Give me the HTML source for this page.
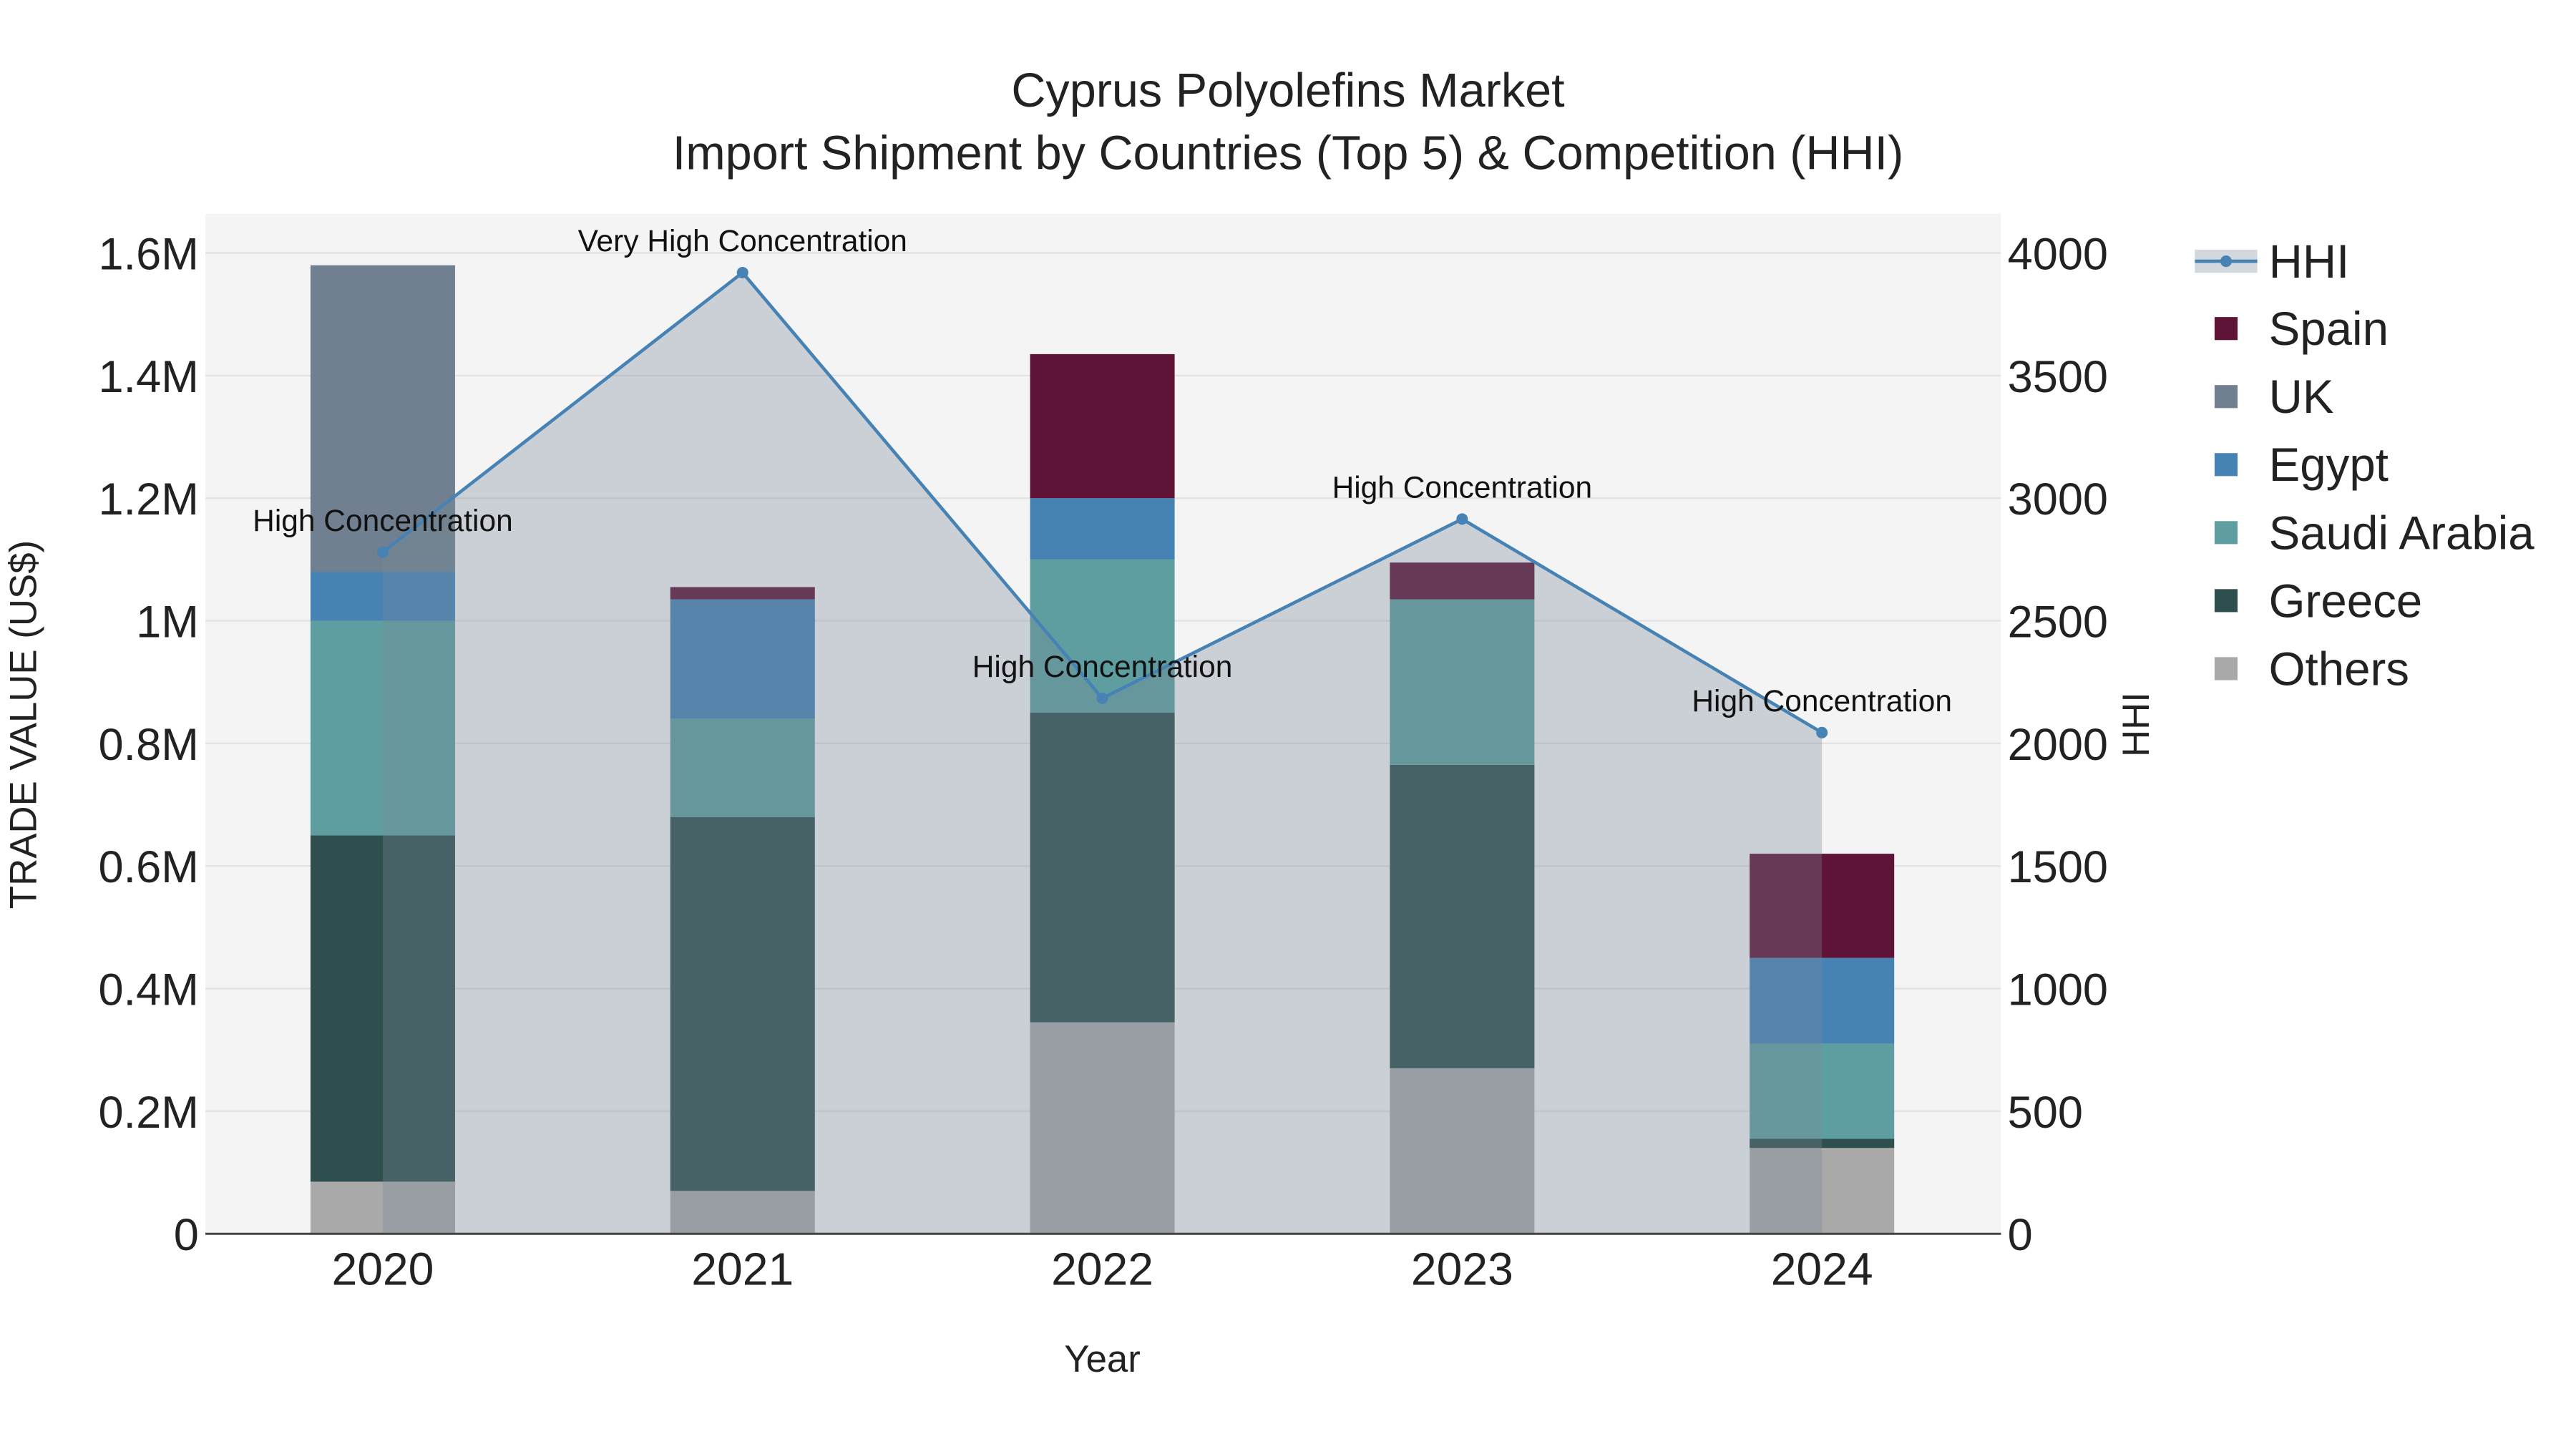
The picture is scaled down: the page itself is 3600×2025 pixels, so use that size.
<!DOCTYPE html>
<html><head><meta charset="utf-8"><style>
html,body{margin:0;padding:0;background:#fff}
svg{display:block;font-family:"Liberation Sans",sans-serif}
</style></head><body>
<svg id="chart" width="3600" height="2025" viewBox="0 0 1568 882" xmlns="http://www.w3.org/2000/svg">
<rect x="0" y="0" width="1568" height="882" fill="#fff"/>
<rect x="125" y="130" width="1093" height="621" fill="#f4f4f4"/>
<g id="grid"></g><g id="bars"></g><g id="area"></g><g id="line"></g><g id="axes"></g><g id="legend"></g>
<text x="784" y="65" text-anchor="middle" font-size="29" fill="#222">Cyprus Polyolefins Market</text>
<text x="784" y="103" text-anchor="middle" font-size="29" fill="#222">Import Shipment by Countries (Top 5) &amp; Competition (HHI)</text>
<text x="671" y="835" text-anchor="middle" font-size="23" fill="#222">Year</text>
<text transform="translate(22,441) rotate(-90)" text-anchor="middle" font-size="23" fill="#222">TRADE VALUE (US$)</text>
<text transform="translate(1308,441) rotate(-90)" text-anchor="middle" font-size="23" fill="#222">HHI</text>
</svg>
<script>
const years = ["2020","2021","2022","2023","2024"];
const others = [0.085,0.07,0.345,0.27,0.14];
const greece = [0.565,0.61,0.505,0.495,0.015];
const saudi = [0.35,0.16,0.25,0.27,0.155];
const egypt = [0.08,0.195,0.10,0,0.14];
const uk = [0.5,0,0,0,0];
const spain = [0,0.02,0.235,0.06,0.17];
const hhi = [2780,3920,2184,2915,2044];
const hhiLabels = ["High Concentration","Very High Concentration","High Concentration","High Concentration","High Concentration"];
const yTicks = [0,0.2,0.4,0.6,0.8,1.0,1.2,1.4,1.6];
const yTickLabels = ["0","0.2M","0.4M","0.6M","0.8M","1M","1.2M","1.4M","1.6M"];
const y2Ticks = [0,500,1000,1500,2000,2500,3000,3500,4000];

const NS="http://www.w3.org/2000/svg";
function mk(tag,attrs,parent,text){const e=document.createElementNS(NS,tag);for(const k in attrs)e.setAttribute(k,attrs[k]);if(text!==undefined)e.textContent=text;parent.appendChild(e);return e;}
const x=i=>233+i*219;
const y=v=>751-v/1.6*597;
const y2=v=>751-v/4000*597;
const G=id=>document.getElementById(id);

yTicks.forEach((t,i)=>{
  if(t>0){const l=mk('line',{x1:125,x2:1218,y1:y(t),y2:y(t),stroke:'#e2e2e2','stroke-width':1},G('grid'));
  
  }
  const tl=mk('text',{x:121,y:y(t)+10,'text-anchor':'end','font-size':27.5,fill:'#222'},G('axes'),yTickLabels[i]);
  
  
});
y2Ticks.forEach(t=>{
  const tl=mk('text',{x:1222,y:y2(t)+10,'font-size':27.5,fill:'#222'},G('axes'),String(t));
  
  
});
years.forEach((yr,i)=>{
  const tl=mk('text',{x:x(i),y:782,'text-anchor':'middle','font-size':28,fill:'#222'},G('axes'),yr);
  
  
});
const zl=mk('line',{x1:125,x2:1218,y1:751,y2:751,stroke:'#444','stroke-width':1.3},G('axes'));



const series=[["Others",others,"#a9a9a9"],["Greece",greece,"#2f4f4f"],["Saudi Arabia",saudi,"#5f9ea0"],["Egypt",egypt,"#4682b4"],["UK",uk,"#708090"],["Spain",spain,"#5f1336"]];
years.forEach((yr,i)=>{
  let base=0;
  series.forEach(([name,vals,col])=>{
    const v=vals[i];
    if(v>0){
      const r=mk('rect',{x:x(i)-44,width:88,y:y(base+v),height:y(base)-y(base+v),fill:col},G('bars'));
      
      
    }
    base+=v;
  });
});

let d='M'+x(0)+','+y2(0);
hhi.forEach((v,i)=>{d+=' L'+x(i)+','+y2(v);});
d+=' L'+x(hhi.length-1)+','+y2(0)+' Z';
const ar=mk('path',{d:d,fill:'rgba(119,136,153,0.33)'},G('area'));


const ln=mk('polyline',{points:hhi.map((v,i)=>x(i)+','+y2(v)).join(' '),fill:'none',stroke:'#4682b4','stroke-width':2},G('line'));


hhi.forEach((v,i)=>{
  const c=mk('circle',{cx:x(i),cy:y2(v),r:3.5,fill:'#4682b4'},G('line'));
  
  
  const t=mk('text',{x:x(i),y:y2(v)-13,'text-anchor':'middle','font-size':18.5,fill:'#111'},G('line'),hhiLabels[i]);
  
  
});

const lg=G('legend');
const hb=mk('rect',{x:1336,y:152,width:38,height:14,fill:'rgba(119,136,153,0.33)'},lg);


const hl=mk('line',{x1:1336,x2:1374,y1:159,y2:159,stroke:'#4682b4','stroke-width':2},lg);


const hc=mk('circle',{cx:1355,cy:159,r:3.5,fill:'#4682b4'},lg);


const ht=mk('text',{x:1381,y:169,'font-size':28.5,fill:'#222'},lg,'HHI');


const legItems=[["Spain","#5f1336"],["UK","#708090"],["Egypt","#4682b4"],["Saudi Arabia","#5f9ea0"],["Greece","#2f4f4f"],["Others","#a9a9a9"]];
legItems.forEach(([n,c],k)=>{
  const cy=200+k*41.4;
  const s=mk('rect',{x:1348,y:cy-7,width:14,height:14,fill:c},lg);
  
  
  const t=mk('text',{x:1381,y:cy+10,'font-size':28.5,fill:'#222'},lg,n);
  
  
});
</script>
</body></html>
